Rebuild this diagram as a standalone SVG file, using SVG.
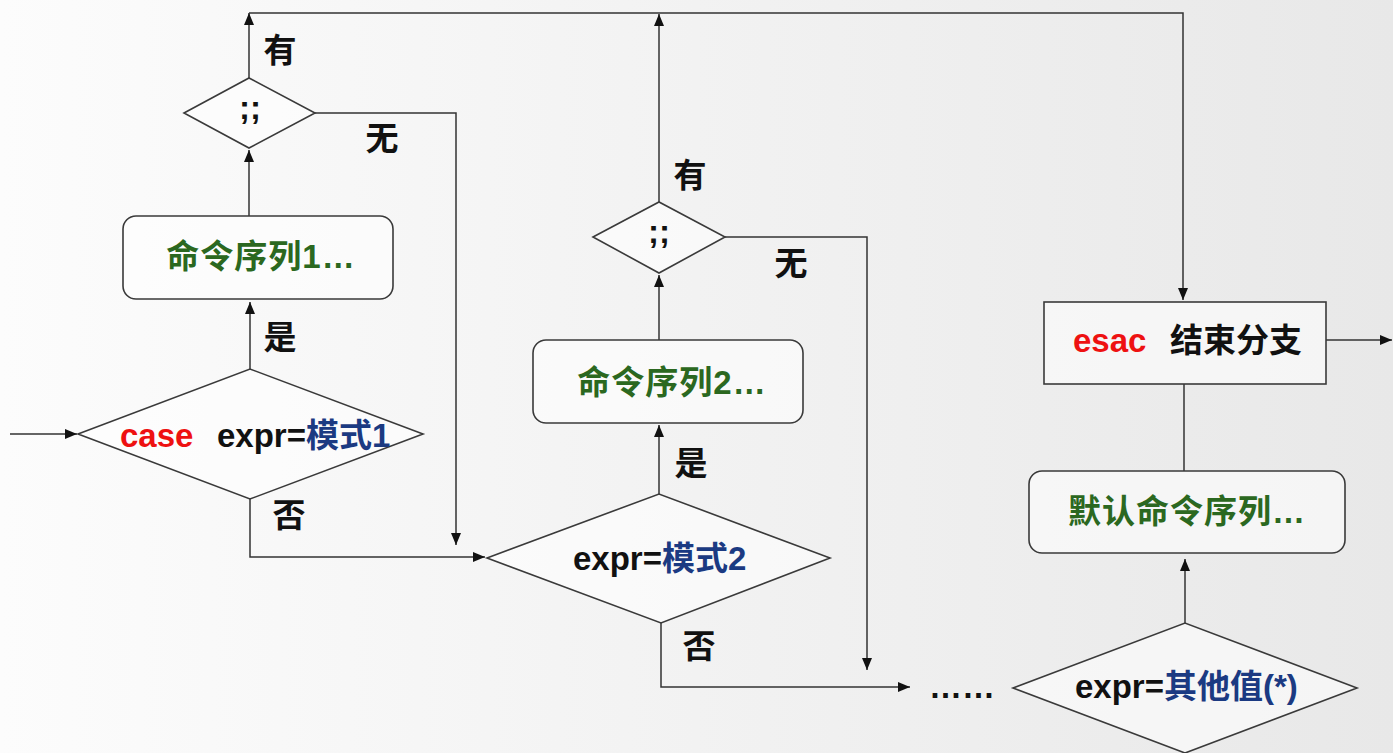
<svg xmlns="http://www.w3.org/2000/svg" width="1393" height="753" viewBox="0 0 1393 753">
<defs>
<linearGradient id="bg" x1="0" y1="0" x2="1" y2="0">
<stop offset="0" stop-color="#fcfcfc"/>
<stop offset="0.5" stop-color="#f2f2f2"/>
<stop offset="1" stop-color="#e8e8e8"/>
</linearGradient>
<marker id="arr" markerUnits="userSpaceOnUse" markerWidth="14" markerHeight="12" refX="12" refY="5" orient="auto">
<path d="M0,0 L12,5 L0,10 Z" fill="#111"/>
</marker>
<style>
.shape{fill:#ffffff;fill-opacity:0.55;stroke:#3a3a3a;stroke-width:1.6}
.conn{fill:none;stroke:#333;stroke-width:1.5}
.t{font-family:"Liberation Sans","Noto Sans CJK SC",sans-serif;font-weight:bold;font-size:33px;fill:#111}
.g{fill:#2b6820;font-size:33px;letter-spacing:1px}
.r{fill:#ee1111}
.b{fill:#1b3a82}
.lbl{text-anchor:middle}
</style>
</defs>
<rect x="0" y="0" width="1393" height="753" fill="url(#bg)"/>

<g id="connectors">
<path class="conn" d="M10,434 H77" marker-end="url(#arr)"/>
<path class="conn" d="M250,369 V302" marker-end="url(#arr)"/>
<path class="conn" d="M249,216 V150" marker-end="url(#arr)"/>
<path class="conn" d="M249,78 V13" marker-end="url(#arr)"/>
<path class="conn" d="M249,13 H1183 V300" marker-end="url(#arr)"/>
<path class="conn" d="M315,113 H456 V545" marker-end="url(#arr)"/>
<path class="conn" d="M250,499 V557 H485" marker-end="url(#arr)"/>
<path class="conn" d="M659,494 V425" marker-end="url(#arr)"/>
<path class="conn" d="M659,340 V275" marker-end="url(#arr)"/>
<path class="conn" d="M659,202 V14" marker-end="url(#arr)"/>
<path class="conn" d="M725,237 H867 V670" marker-end="url(#arr)"/>
<path class="conn" d="M661,623 V687 H910" marker-end="url(#arr)"/>
<path class="conn" d="M1185,623 V559" marker-end="url(#arr)"/>
<path class="conn" d="M1184,471 V384"/>
<path class="conn" d="M1326,340 H1392" marker-end="url(#arr)"/>
</g>

<g id="labels">
<text class="t lbl" x="280" y="62">有</text>
<text class="t lbl" x="382" y="150">无</text>
<text class="t lbl" x="280" y="349">是</text>
<text class="t lbl" x="289" y="527">否</text>
<text class="t lbl" x="690" y="187">有</text>
<text class="t lbl" x="791" y="275">无</text>
<text class="t lbl" x="691" y="475">是</text>
<text class="t lbl" x="699" y="658">否</text>
<text class="t" x="929" y="698" font-size="30">……</text>
</g>

<g id="d1">
<polygon class="shape" points="78,434 250,369 423,434 250,499"/>
<text class="t" y="447"><tspan class="r" x="120">case</tspan><tspan x="217">expr=</tspan><tspan class="b">模式1</tspan></text>
</g>

<g id="box1">
<rect class="shape" x="123" y="216" width="270" height="83" rx="13"/>
<text class="t g lbl" x="261" y="268">命令序列1…</text>
</g>

<g id="semi1">
<polygon class="shape" points="184,113 249,78 315,113 249,148"/>
<text class="t lbl" x="250" y="119" font-size="28">;;</text>
</g>

<g id="d2">
<polygon class="shape" points="487,558 659,494 830,558 661,623"/>
<text class="t" y="570"><tspan x="573">expr=</tspan><tspan class="b">模式2</tspan></text>
</g>

<g id="box2">
<rect class="shape" x="533" y="340" width="270" height="83" rx="13"/>
<text class="t g lbl" x="672" y="394">命令序列2…</text>
</g>

<g id="semi2">
<polygon class="shape" points="593,237 659,202 725,237 659,273"/>
<text class="t lbl" x="659" y="243" font-size="28">;;</text>
</g>

<g id="esac">
<rect class="shape" x="1044" y="302" width="282" height="82"/>
<text class="t" y="352"><tspan class="r" x="1073">esac</tspan><tspan x="1170">结束分支</tspan></text>
</g>

<g id="box3">
<rect class="shape" x="1029" y="471" width="316" height="82" rx="13"/>
<text class="t g lbl" x="1187" y="523">默认命令序列…</text>
</g>

<g id="d4">
<polygon class="shape" points="1013,688 1185,623 1357,688 1185,753"/>
<text class="t" y="698"><tspan x="1075">expr=</tspan><tspan class="b">其他值(*)</tspan></text>
</g>
</svg>
